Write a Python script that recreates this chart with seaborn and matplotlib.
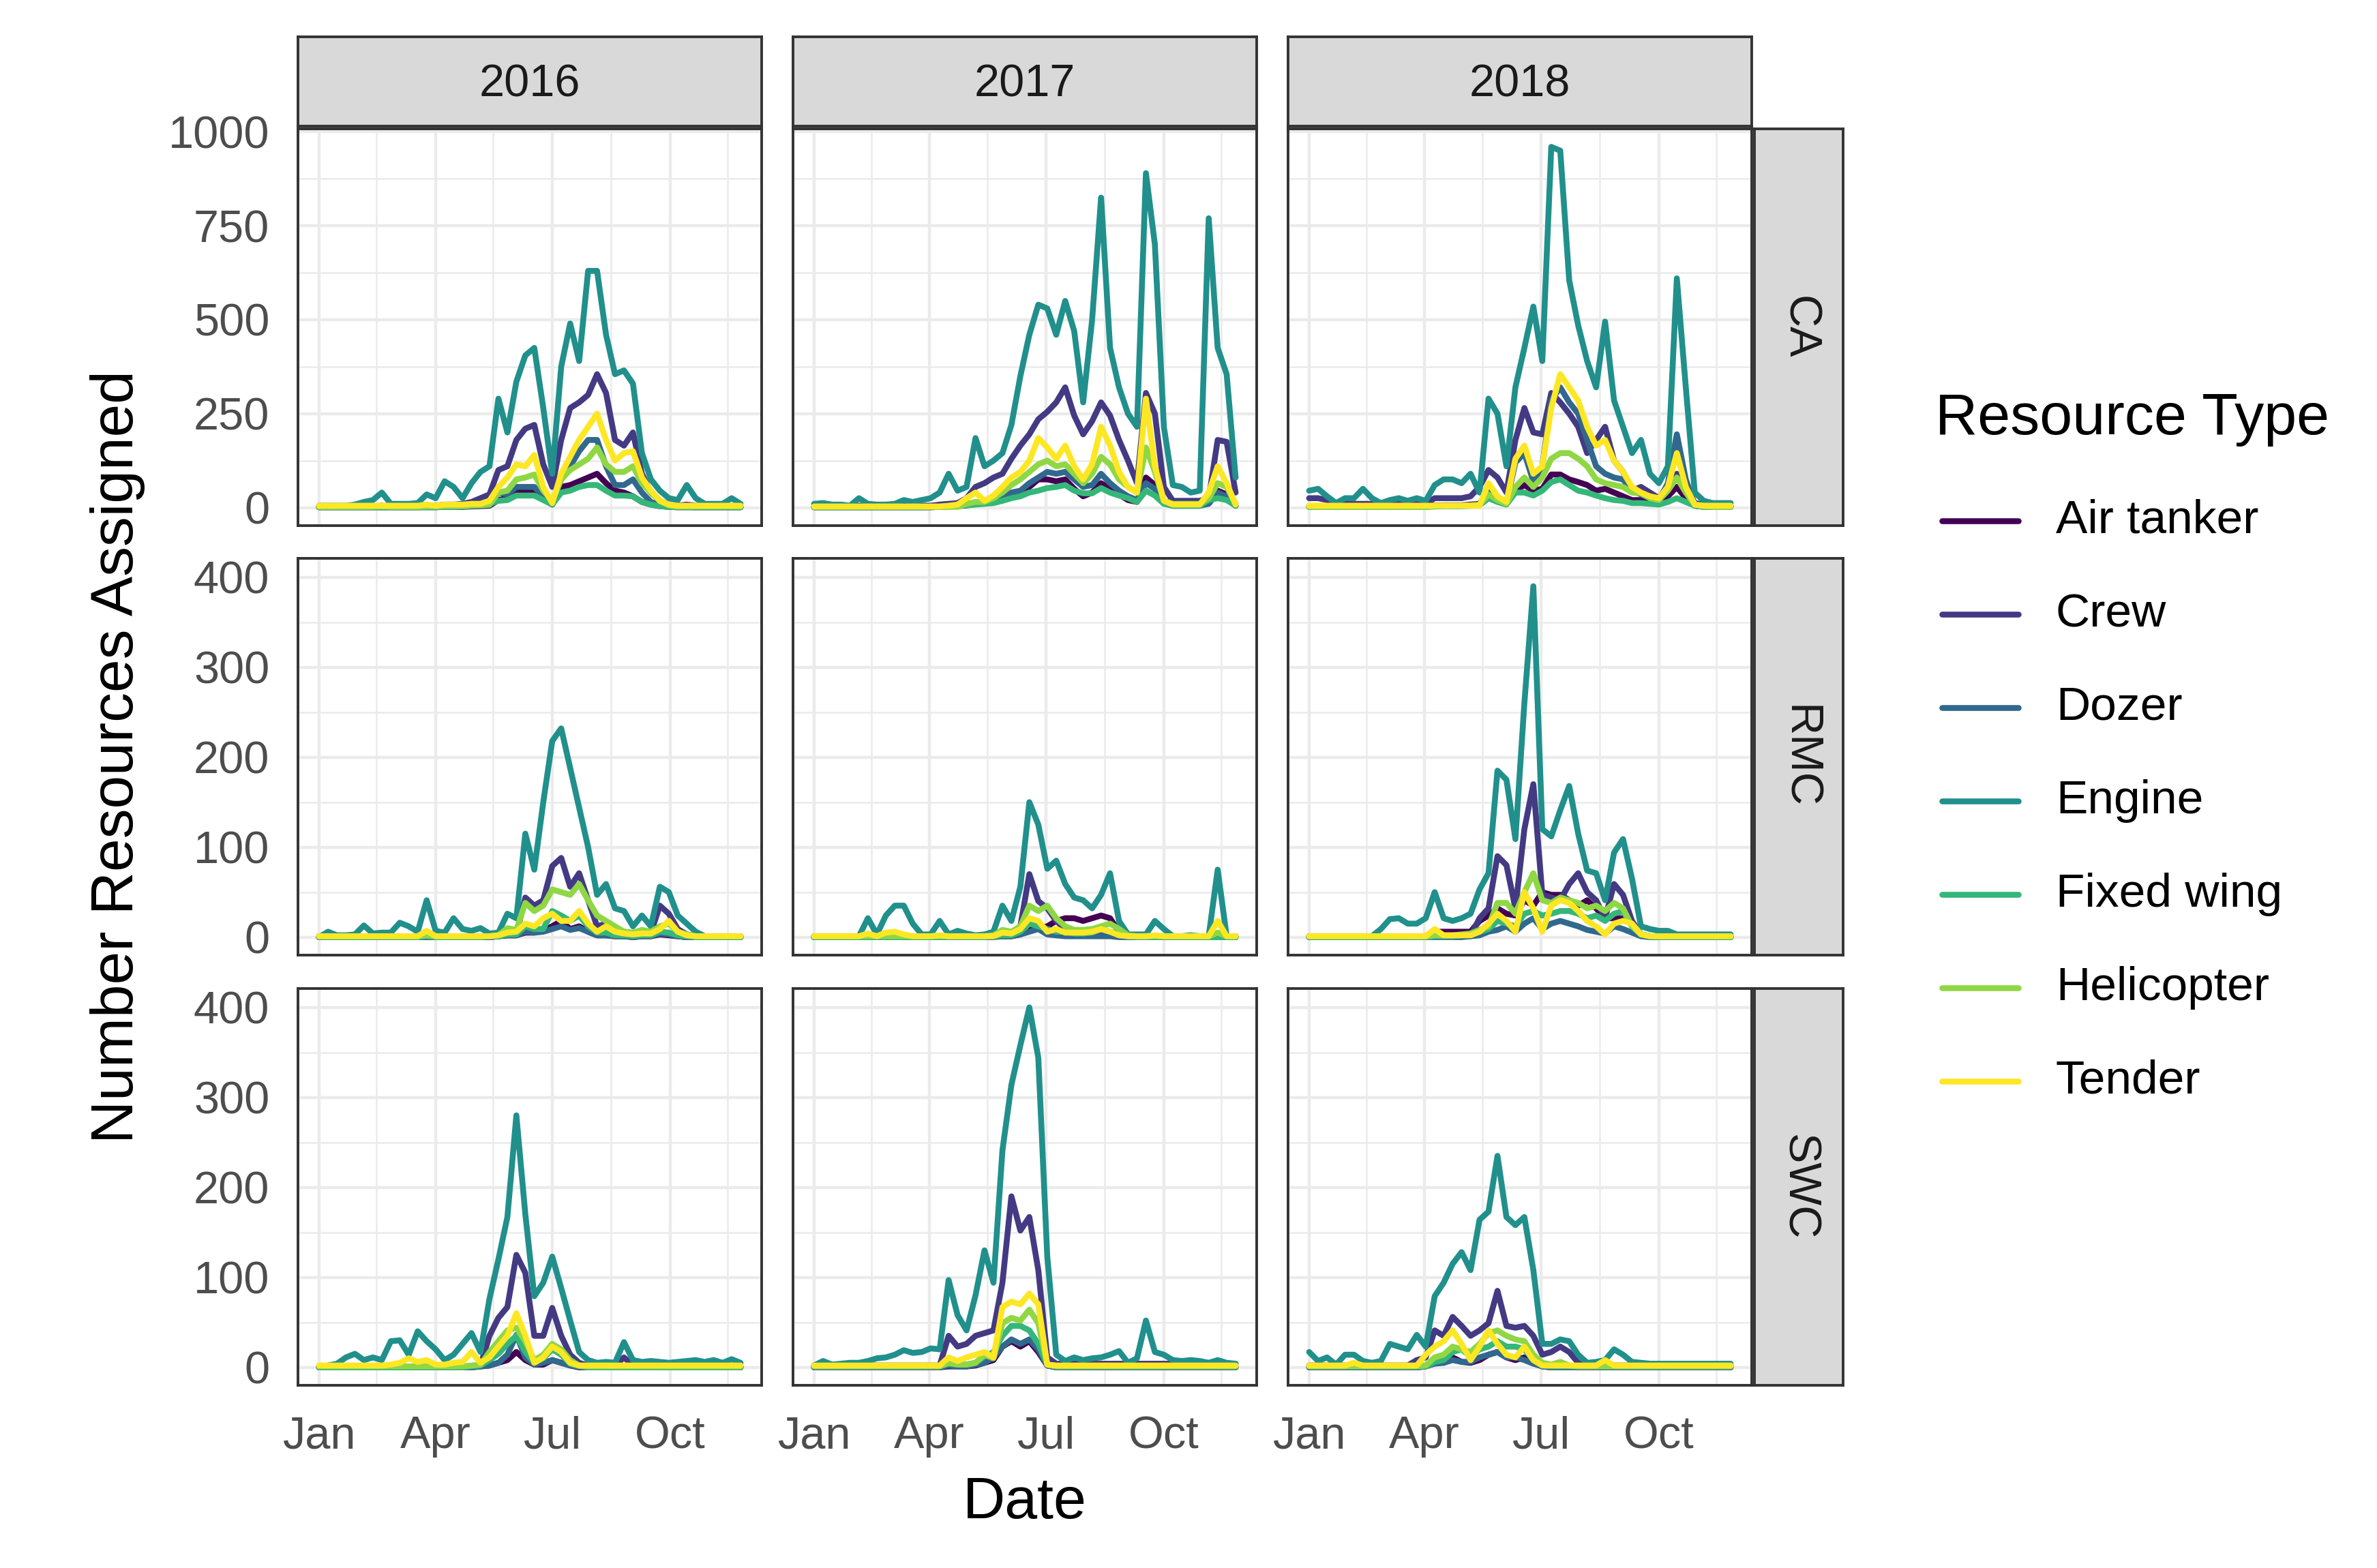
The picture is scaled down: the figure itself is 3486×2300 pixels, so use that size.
import numpy as np
import pandas as pd
import matplotlib.pyplot as plt
import matplotlib.dates as mdates
from matplotlib.ticker import FixedLocator, MultipleLocator
from matplotlib.lines import Line2D
import seaborn as sns

# weekly sample days (offset from Jan 1)
days = list(range(0, 330, 7))
years = [2016, 2017, 2018]
regions = ["CA", "RMC", "SWC"]
types = ["Air tanker", "Crew", "Dozer", "Engine", "Fixed wing", "Helicopter", "Tender"]
colors = ["#440154", "#443A83", "#31688E", "#21908C", "#35B779", "#8FD744", "#FDE725"]

# ---- CA ----
ca16_air = [1,1,1,1,1,1,1,1,1,1,1,1, 1,1,2,2,2,3,4,5,20,25,45,45,
            45,25,8,55,60,70,80,90,65,45,40,30, 15,8,4,2,1,1,1,1,1,1,1,1]
ca16_crew = [3,3,3,3,3,3,3,5,3,3,3,3, 5,5,8,8,10,15,25,35,100,110,180,210,
             220,115,55,180,265,280,300,355,305,180,165,200, 90,40,18,8,5,8,5,3,3,3,3,3]
ca16_dozer = [1,1,1,1,1,1,1,1,1,1,1,1, 2,2,3,3,3,4,5,6,40,35,55,55,
              55,30,12,75,110,150,180,180,110,60,60,75, 40,15,6,3,2,2,1,1,1,1,1,1]
ca16_engine = [5,5,5,5,8,15,20,40,10,10,10,12, 35,25,70,55,25,65,95,110,290,200,335,405,
               425,265,90,375,490,390,630,630,460,355,365,330, 145,75,45,25,20,60,25,10,10,10,25,10]
ca16_fixed = [1,1,1,1,1,1,1,1,1,1,1,1, 1,1,2,2,3,5,8,10,18,20,32,32,
              32,20,8,40,45,55,60,60,45,32,32,30, 15,8,4,2,1,1,1,1,1,1,1,1]
ca16_heli = [2,2,2,2,2,2,2,3,2,2,2,2, 3,3,4,4,4,5,6,8,40,45,75,80,
             88,45,18,75,100,115,130,160,115,95,95,110, 65,40,18,6,3,3,3,3,3,3,3,3]
ca16_tender = [5,5,5,5,5,5,5,5,5,5,5,5, 8,5,8,8,8,10,10,18,55,80,115,110,
               140,55,12,90,135,180,215,250,180,125,145,150, 80,45,18,8,5,5,5,5,5,5,5,5]

ca17_air = [1,1,1,1,1,1,1,1,1,1,1,1, 1,1,2,3,4,6,10,12,15,20,30,40,
            55,75,75,70,75,50,30,40,65,50,35,20, 15,80,60,15,5,5,5,5,15,45,35,5]
ca17_crew = [3,3,3,3,3,5,3,3,3,3,5,5, 5,5,8,10,12,25,55,65,80,90,130,165,
             195,235,255,280,320,245,195,230,280,245,180,125, 65,305,250,55,18,18,18,18,25,180,175,40]
ca17_dozer = [1,1,1,1,1,1,1,1,1,1,1,1, 1,1,2,3,5,8,12,15,20,30,40,45,
              65,80,95,90,95,75,55,60,90,65,45,30, 20,65,50,12,5,5,5,5,10,40,30,5]
ca17_engine = [10,12,8,8,5,25,10,8,8,10,20,15, 20,25,40,90,45,55,185,110,125,145,220,350,
               460,540,530,460,550,470,280,500,825,425,320,250, 215,890,700,215,60,55,40,45,770,425,355,80]
ca17_fixed = [1,1,1,1,1,1,1,1,1,1,1,1, 1,2,2,3,5,6,8,10,12,18,25,30,
              40,45,52,55,60,45,38,38,52,40,32,25, 15,45,32,10,5,5,5,5,20,25,20,5]
ca17_heli = [2,2,2,2,2,2,2,2,2,2,2,2, 2,2,2,2,2,10,15,15,25,40,60,75,
             95,115,125,110,115,90,65,90,135,115,75,55, 40,160,95,18,10,10,10,10,25,65,55,10]
ca17_tender = [3,3,3,3,3,3,3,3,3,3,3,3, 3,3,3,5,8,25,40,18,32,55,80,95,
               125,185,160,130,165,110,75,115,215,165,95,55, 40,290,110,18,8,8,8,8,40,110,65,8]

ca18_air = [2,2,2,2,2,2,2,2,2,2,2,2, 2,2,5,6,6,6,8,10,45,25,10,45,
            60,45,50,88,88,75,68,60,45,50,40,30, 20,20,15,12,30,55,25,5,2,2,2,2]
ca18_crew = [25,25,20,10,10,10,10,10,10,10,10,10, 10,10,25,25,25,25,30,55,100,80,40,180,
             265,200,195,305,280,250,215,145,180,215,125,95, 45,55,40,25,55,90,55,12,8,5,5,5]
ca18_dozer = [3,3,3,3,3,3,3,3,3,3,3,3, 3,3,5,5,5,5,6,8,40,20,12,120,
              145,70,110,285,320,280,250,180,110,90,80,75, 45,35,25,20,65,195,75,8,3,3,3,3]
ca18_engine = [45,50,30,12,25,25,50,25,12,20,25,18, 25,18,60,75,75,65,90,40,290,250,110,320,
               425,535,390,960,950,605,485,390,320,495,285,215, 145,180,90,65,110,610,320,40,18,12,12,12]
ca18_fixed = [2,2,2,2,2,2,2,2,2,2,2,2, 2,2,3,4,4,4,5,6,25,15,8,40,
              40,32,45,68,75,60,45,40,32,25,20,18, 12,12,10,8,15,25,15,5,2,2,2,2]
ca18_heli = [2,2,2,2,2,2,2,2,2,2,2,2, 2,2,4,5,5,5,6,8,35,20,10,55,
             80,55,80,130,145,145,130,110,75,65,60,55, 40,38,25,20,45,80,40,8,3,2,2,2]
ca18_tender = [5,5,5,5,5,5,5,5,5,5,5,5, 5,5,5,5,5,5,5,5,65,30,15,130,
               165,90,110,265,355,320,285,215,165,180,125,95, 55,40,30,25,55,145,55,8,5,5,5,5]

# ---- RMC ----
rmc16_air = [0,0,0,0,0,0,0,0,0,0,0,0, 0,0,0,0,0,0,0,0,1,2,2,5,
             5,8,12,18,9,12,6,2,2,1,1,0, 1,1,3,2,1,0,0,0,0,0,0,0]
rmc16_crew = [1,1,1,1,1,1,1,1,1,1,1,1, 3,1,1,1,1,1,1,1,1,3,3,44,
              35,41,79,88,56,71,41,12,15,6,6,3, 5,5,35,26,9,3,1,1,1,1,1,1]
rmc16_dozer = [0,0,0,0,0,0,0,0,0,0,0,0, 0,0,0,0,0,0,0,0,1,2,2,6,
               5,6,9,12,8,10,6,2,2,1,1,0, 1,1,4,3,1,0,0,0,0,0,0,0]
rmc16_engine = [0,6,2,2,3,13,4,5,5,16,12,6, 41,7,5,21,9,7,10,4,5,26,21,115,
                75,150,218,232,188,144,100,47,59,32,29,12, 24,12,56,50,24,15,6,1,1,1,1,1]
rmc16_fixed = [0,0,0,0,0,0,0,0,0,0,0,0, 1,0,0,0,0,0,0,1,1,3,3,12,
               9,9,29,24,18,24,12,5,5,2,2,1, 2,2,6,5,2,1,0,0,0,0,0,0]
rmc16_heli = [1,1,1,1,1,1,1,1,1,1,1,1, 2,1,1,1,1,1,1,1,2,10,8,38,
              29,35,53,50,47,59,41,24,18,12,6,5, 8,6,12,15,6,3,1,1,1,1,1,1]
rmc16_tender = [1,1,1,1,1,1,1,1,1,1,1,1, 7,1,1,1,1,1,1,1,2,5,6,15,
                12,21,26,18,18,29,15,6,12,6,4,3, 4,4,9,18,6,2,1,1,1,1,1,1]

rmc17_air = [0,0,0,0,0,0,0,0,0,0,0,0, 0,0,0,0,0,0,0,0,1,1,1,3,
             8,10,12,18,21,21,18,21,24,21,6,1, 0,0,0,0,0,0,0,0,0,0,0,0]
rmc17_crew = [1,1,1,1,1,1,1,1,1,1,1,1, 1,1,1,1,1,1,1,1,1,6,4,12,
              70,40,32,18,9,5,4,2,2,2,1,1, 1,1,1,1,1,1,1,1,1,1,1,1]
rmc17_dozer = [0,0,0,0,0,0,0,0,0,0,0,0, 0,0,0,0,0,0,0,0,0,1,1,3,
               6,9,3,2,1,1,1,1,1,1,0,0, 0,0,0,0,0,0,0,0,0,0,0,0]
rmc17_engine = [1,1,1,1,1,1,21,3,24,35,35,15, 3,3,18,3,7,4,2,3,6,35,18,56,
                150,125,76,85,59,44,41,32,47,71,18,3, 3,3,18,9,1,1,2,1,1,75,1,1]
rmc17_fixed = [0,0,0,0,0,0,0,0,0,0,0,0, 0,0,0,0,0,0,0,0,1,2,2,6,
               15,12,9,6,6,4,4,5,9,6,3,1, 0,0,0,0,0,0,0,0,0,0,0,0]
rmc17_heli = [1,1,1,1,1,1,1,1,1,1,1,1, 1,1,1,1,1,1,1,1,2,8,6,12,
              35,29,35,21,12,8,8,9,12,15,9,2, 1,1,1,1,1,1,1,1,1,5,1,1]
rmc17_tender = [1,1,1,1,1,1,4,1,5,6,3,1, 1,1,2,1,1,1,1,1,1,5,4,9,
                21,18,6,9,5,5,5,6,9,6,2,1, 1,1,2,1,1,1,1,1,1,18,1,1]

rmc18_air = [0,0,0,0,0,0,0,0,0,0,0,0, 1,1,6,6,6,6,6,18,24,32,26,24,
             41,35,50,47,47,41,35,41,32,21,21,21, 15,3,1,0,0,0,0,0,0,0,0,0]
rmc18_crew = [1,1,1,1,1,1,1,1,1,1,1,1, 1,1,1,1,1,1,1,21,32,90,80,32,
              120,170,47,44,41,59,71,50,41,21,59,47, 18,3,1,1,1,1,1,1,1,1,1,1]
rmc18_dozer = [0,0,0,0,0,0,0,0,0,0,0,0, 0,0,0,0,0,0,1,2,6,8,12,6,
               15,21,9,15,18,15,12,8,6,4,12,9, 5,1,0,0,0,0,0,0,0,0,0,0]
rmc18_engine = [1,1,1,1,1,1,1,1,9,20,21,15, 15,21,50,21,18,21,26,53,71,185,175,109,
                260,390,120,112,141,168,115,74,71,41,94,109, 65,12,9,7,7,3,3,3,3,3,3,3]
rmc18_fixed = [0,0,0,0,0,0,0,0,0,0,0,0, 0,0,1,1,1,2,3,6,9,18,15,12,
               26,29,24,26,29,29,26,21,24,18,26,29, 12,3,1,0,0,0,0,0,0,0,0,0]
rmc18_heli = [1,1,1,1,1,1,1,1,1,1,1,1, 1,1,2,2,2,3,4,8,12,38,38,26,
              50,71,41,38,44,41,38,32,35,29,38,32, 12,3,1,1,1,1,1,1,1,1,1,1]
rmc18_tender = [1,1,1,1,1,1,1,1,1,1,1,1, 1,1,9,2,2,2,2,6,15,26,18,6,
                50,32,6,35,41,38,29,18,12,3,15,18, 15,3,1,1,1,1,1,1,1,1,1,1]

# ---- SWC ----
swc16_air = [0,0,0,0,0,0,0,0,0,0,0,0, 0,0,0,0,0,0,1,2,5,8,17,8,
             3,3,8,5,2,0,0,0,0,0,0,0, 0,0,0,0,0,0,0,0,0,0,0,0]
swc16_crew = [1,1,1,1,1,1,1,1,1,1,1,1, 1,1,1,1,1,1,2,35,55,67,125,105,
              35,35,66,35,14,5,2,2,2,2,11,2, 1,1,1,1,1,1,1,1,1,1,1,1]
swc16_dozer = [0,0,0,0,0,0,0,0,0,0,0,0, 0,0,0,0,0,0,1,2,5,14,36,11,
               3,5,8,5,2,1,0,0,0,0,0,0, 0,0,0,0,0,0,0,0,0,0,0,0]
swc16_engine = [0,2,4,11,15,8,11,8,29,30,14,40, 29,20,8,14,26,38,17,76,120,167,280,170,
                79,94,123,88,52,17,8,5,6,5,28,8, 6,7,6,5,6,7,8,6,8,5,9,5]
swc16_fixed = [0,0,0,0,0,0,0,0,0,0,0,0, 0,0,0,0,0,1,2,8,15,26,35,17,
               5,10,20,14,4,1,0,0,0,0,0,0, 0,0,0,0,0,0,0,0,0,0,0,0]
swc16_heli = [1,1,1,1,1,1,1,1,1,1,1,1, 1,1,1,1,1,2,3,17,29,41,44,29,
              8,14,26,20,8,2,1,1,1,1,1,1, 1,1,1,1,1,1,1,1,1,1,1,1]
swc16_tender = [2,2,2,2,2,2,2,2,3,5,10,6, 8,3,3,5,6,17,5,11,23,35,60,35,
                5,11,23,17,5,2,2,2,2,2,2,2, 2,2,2,2,2,2,2,2,2,2,2,2]

swc17_air = [0,0,0,0,0,0,0,0,0,0,0,0, 0,0,0,1,1,1,2,5,8,23,29,23,
             29,17,2,0,0,0,0,0,0,0,0,0, 0,0,0,0,0,0,0,0,0,0,0,0]
swc17_crew = [2,2,2,2,2,2,2,2,2,2,2,2, 2,2,2,35,23,26,35,38,41,94,190,152,
              167,108,11,4,4,4,4,4,4,4,4,4, 4,4,4,4,4,4,4,4,4,4,4,4]
swc17_dozer = [0,0,0,0,0,0,0,0,0,0,0,0, 0,0,0,2,1,1,3,5,11,23,31,26,
               31,20,2,0,0,0,0,0,0,0,0,0, 0,0,0,0,0,0,0,0,0,0,0,0]
swc17_engine = [2,7,3,4,5,5,7,10,11,14,19,16, 17,21,20,97,58,41,80,130,94,241,314,358,
                400,344,123,14,7,11,8,10,11,14,18,5, 10,52,17,14,8,7,8,7,5,8,5,4]
swc17_fixed = [1,1,1,1,1,1,1,1,1,1,1,1, 1,1,1,4,3,3,5,12,17,35,46,46,
               41,26,3,1,1,1,1,1,1,1,1,1, 1,1,1,1,1,1,1,1,1,1,1,1]
swc17_heli = [1,1,1,1,1,1,1,1,1,1,1,1, 1,1,1,5,3,3,5,14,10,49,55,52,
              64,49,3,1,1,1,1,1,1,1,1,1, 1,1,1,1,1,1,1,1,1,1,1,1]
swc17_tender = [2,2,2,2,2,2,2,2,2,2,2,2, 2,2,2,11,7,11,14,17,11,67,73,70,
                82,70,3,2,2,2,2,2,2,2,2,2, 2,2,2,2,2,2,2,2,2,2,2,2]

swc18_air = [0,0,0,0,0,0,0,0,0,0,0,0, 0,1,8,5,11,6,5,8,14,17,11,8,
             11,5,1,0,0,0,0,0,0,0,0,0, 0,0,0,0,0,0,0,0,0,0,0,0]
swc18_crew = [2,2,2,2,2,2,2,2,2,2,2,2, 8,11,41,35,56,46,35,41,49,85,46,44,
              46,35,14,17,23,17,5,2,2,2,2,2, 2,2,2,2,2,2,2,2,2,2,2,2]
swc18_dozer = [0,0,0,0,0,0,0,0,0,0,0,0, 0,1,4,5,8,6,6,11,14,17,11,11,
               8,4,1,0,0,0,0,0,0,0,0,0, 0,0,0,0,0,0,0,0,0,0,0,0]
swc18_engine = [17,7,11,3,14,14,7,5,7,26,23,20, 36,23,79,94,115,128,108,164,173,235,167,158,
                167,108,26,26,31,29,14,5,6,8,20,14, 6,5,4,4,4,4,4,4,4,4,4,4]
swc18_fixed = [1,1,1,1,1,1,1,1,1,1,1,1, 1,1,6,8,17,20,12,20,23,29,23,23,
               20,8,2,1,1,1,1,1,1,1,1,1, 1,1,1,1,1,1,1,1,1,1,1,1]
swc18_heli = [1,1,1,1,1,1,1,1,1,1,1,1, 1,2,11,14,23,20,17,26,38,41,35,31,
              29,14,5,3,6,2,1,1,1,1,1,1, 1,1,1,1,1,1,1,1,1,1,1,1]
swc18_tender = [2,2,2,2,2,5,2,2,2,2,2,2, 2,14,23,29,41,26,8,23,41,26,14,11,
                23,8,2,2,2,2,2,2,2,8,2,2, 2,2,2,2,2,2,2,2,2,2,2,2]

# collect into long table
g = globals()
short = ["air", "crew", "dozer", "engine", "fixed", "heli", "tender"]
rows = []
for reg in regions:
    for yr in years:
        start = pd.Timestamp(f"{yr}-01-01")
        dates = start + pd.to_timedelta(days, unit="D")
        for t, s in zip(types, short):
            vals = g[f"{reg.lower()}{str(yr)[2:]}_{s}"]
            for d, v in zip(dates, vals):
                rows.append((reg, yr, t, d, v))
df = pd.DataFrame(rows, columns=["region", "year", "type", "date", "value"])

sns.set_style("white")
plt.rcParams['font.family'] = ['Liberation Sans', 'DejaVu Sans']

W, H = 3487, 2300
fig = plt.figure(figsize=(W / 200, H / 200), dpi=200)

def box(x0, y0, w, h):
    return [x0 / W, 1 - (y0 + h) / H, w / W, h / H]

col_x = [437, 1163, 1889]
row_y = [189, 819, 1450]
pw, ph = 680, 582
border = "#333333"
lw = 3.1
ylims = {"CA": (-48, 1008), "RMC": (-20, 421), "SWC": (-20, 421)}
yticks = {"CA": [0, 250, 500, 750, 1000], "RMC": [0, 100, 200, 300, 400], "SWC": [0, 100, 200, 300, 400]}
yminor = {"CA": 125, "RMC": 50, "SWC": 50}

for i, reg in enumerate(regions):
    for j, yr in enumerate(years):
        ax = fig.add_axes(box(col_x[j], row_y[i], pw, ph))
        sub = df[(df.region == reg) & (df.year == yr)]
        sns.lineplot(data=sub, x="date", y="value", hue="type", hue_order=types,
                     palette=colors, linewidth=lw, estimator=None, sort=False,
                     legend=False, ax=ax)
        t0 = pd.Timestamp(f"{yr}-01-01")
        t1 = t0 + pd.Timedelta(days=days[-1])
        pad = (t1 - t0) * 0.05
        ax.set_xlim(mdates.date2num(t0 - pad), mdates.date2num(t1 + pad))
        majors = [pd.Timestamp(f"{yr}-{m:02d}-01") for m in (1, 4, 7, 10)]
        minors = [pd.Timestamp(f"{yr}-02-15"), pd.Timestamp(f"{yr}-05-16"),
                  pd.Timestamp(f"{yr}-08-16"), pd.Timestamp(f"{yr}-11-15")]
        ax.xaxis.set_major_locator(FixedLocator(mdates.date2num(majors)))
        ax.xaxis.set_minor_locator(FixedLocator(mdates.date2num(minors)))
        ax.set_ylim(*ylims[reg])
        ax.yaxis.set_major_locator(FixedLocator(yticks[reg]))
        ax.yaxis.set_minor_locator(MultipleLocator(yminor[reg]))
        ax.set_axisbelow(True)
        ax.grid(which="major", color="#EBEBEB", linewidth=1.6)
        ax.grid(which="minor", color="#EBEBEB", linewidth=0.9)
        for sp in ax.spines.values():
            sp.set_color(border)
            sp.set_linewidth(1.4)
        ax.set_xlabel("")
        ax.set_ylabel("")
        ax.tick_params(which="minor", length=0)
        ax.tick_params(which="major", length=8, width=1.8, color=border,
                       labelsize=24, labelcolor="#4D4D4D")
        ax.tick_params(axis="x", pad=8)
        ax.tick_params(axis="y", pad=7)
        if i == 2:
            ax.set_xticklabels(["Jan", "Apr", "Jul", "Oct"])
        else:
            ax.tick_params(axis="x", length=0, labelbottom=False)
        if j == 0:
            ax.set_yticklabels([str(v) for v in yticks[reg]])
        else:
            ax.tick_params(axis="y", length=0, labelleft=False)

# strips
for j, yr in enumerate(years):
    sax = fig.add_axes(box(col_x[j], 54, pw, 131))
    sax.set_facecolor("#D9D9D9")
    sax.set_xticks([])
    sax.set_yticks([])
    for sp in sax.spines.values():
        sp.set_color(border)
        sp.set_linewidth(1.4)
    sax.text(0.5, 0.46, str(yr), ha="center", va="center", fontsize=24,
             color="#1A1A1A", transform=sax.transAxes)
for i, reg in enumerate(regions):
    sax = fig.add_axes(box(2573, row_y[i], 130, ph))
    sax.set_facecolor("#D9D9D9")
    sax.set_xticks([])
    sax.set_yticks([])
    for sp in sax.spines.values():
        sp.set_color(border)
        sp.set_linewidth(1.4)
    sax.text(0.5, 0.5, reg, ha="center", va="center", fontsize=24, rotation=-90,
             color="#1A1A1A", transform=sax.transAxes)

# axis titles
fig.text(1503 / W, 1 - 2205 / H, "Date", ha="center", va="center", fontsize=31, color="black")
fig.text(173 / W, 1 - 1110 / H, "Number Resources Assigned", ha="center", va="center",
         rotation=90, fontsize=31.5, color="black")

# legend
fig.text(2838 / W, 1 - 615 / H, "Resource Type", ha="left", va="center", fontsize=31, color="black")
for k, (t, c) in enumerate(zip(types, colors)):
    yc = 1 - (764 + 137 * k) / H
    fig.add_artist(Line2D([2848 / W, 2960 / W], [yc, yc], color=c, linewidth=lw,
                          transform=fig.transFigure))
    fig.text(3015 / W, yc, t, ha="left", va="center", fontsize=25, color="black")

fig.savefig("out.png", dpi=200, facecolor="white")
